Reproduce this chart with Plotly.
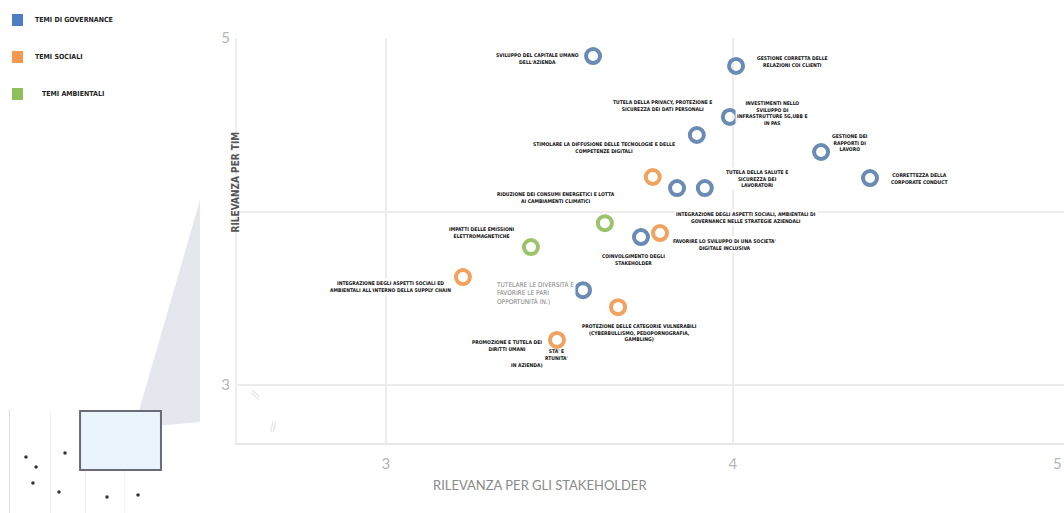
import plotly.graph_objects as go

W, H = 1064, 513

# ---------------- data ----------------
gov_x = [3.597, 4.009, 3.991, 3.896, 4.254, 4.395, 3.839, 3.919, 3.735, 3.568]
gov_y = [4.896, 4.839, 4.545, 4.441, 4.343, 4.193, 4.135, 4.135, 3.853, 3.547]
gov_labels = [
    "SVILUPPO DEL CAPITALE UMANO<br>DELL'AZIENDA",
    "GESTIONE CORRETTA DELLE<br>RELAZIONI COI CLIENTI",
    "INVESTIMENTI NELLO<br>SVILUPPO DI<br>INFRASTRUTTURE 5G,UBB E<br>IN PAS",
    "TUTELA DELLA PRIVACY, PROTEZIONE E<br>SICUREZZA DEI DATI PERSONALI",
    "GESTIONE DEI<br>RAPPORTI DI<br>LAVORO",
    "CORRETTEZZA DELLA<br>CORPORATE CONDUCT",
    "INTEGRAZIONE DEGLI ASPETTI SOCIALI, AMBIENTALI DI<br>GOVERNANCE NELLE STRATEGIE AZIENDALI",
    "TUTELA DELLA SALUTE E<br>SICUREZZA DEI<br>LAVORATORI",
    "COINVOLGIMENTO DEGLI<br>STAKEHOLDER",
    "TUTELARE LE DIVERSITÀ E<br>FAVORIRE LE PARI<br>OPPORTUNITÀ IN.)",
]
soc_x = [3.769, 3.790, 3.222, 3.669, 3.493]
soc_y = [4.199, 3.876, 3.622, 3.449, 3.260]
soc_labels = [
    "STIMOLARE LA DIFFUSIONE DELLE TECNOLOGIE E DELLE<br>COMPETENZE DIGITALI",
    "FAVORIRE LO SVILUPPO DI UNA SOCIETA'<br>DIGITALE INCLUSIVA",
    "INTEGRAZIONE DEGLI ASPETTI SOCIALI ED<br>AMBIENTALI ALL'INTERNO DELLA SUPPLY CHAIN",
    "PROTEZIONE DELLE CATEGORIE VULNERABILI<br>(CYBERBULLISMO, PEDOPORNOGRAFIA,<br>GAMBLING)",
    "PROMOZIONE E TUTELA DEI<br>DIRITTI UMANI",
]
env_x = [3.631, 3.418]
env_y = [3.933, 3.795]
env_labels = [
    "RIDUZIONE DEI CONSUMI ENERGETICI E LOTTA<br>AI CAMBIAMENTI CLIMATICI",
    "IMPATTI DELLE EMISSIONI<br>ELETTROMAGNETICHE",
]
legend_names = ["TEMI DI GOVERNANCE", "TEMI SOCIALI", "TEMI AMBIENTALI"]
x_ticks = [3, 4, 5]
y_ticks = [3, 4, 5]
y_ticktext = ["3", "", "5"]

# minimap (navigator) dots
mini_x = [1.03, 1.68, 1.48, 3.55, 3.16, 6.26, 8.26]
mini_y = [5.44, 4.47, 2.91, 5.83, 2.04, 1.55, 1.75]

# ---------------- style ----------------
C_GOV, C_SOC, C_ENV = "#6a8bb3", "#f2a25f", "#9cc36b"
C_GOV_L, C_SOC_L, C_ENV_L = "#4d7ec1", "#f4994f", "#8dbf5c"
LBL_FONT = "Liberation Sans Narrow, Arial Narrow, DejaVu Sans Condensed, sans-serif"
LBL_SIZE = 5

# label offsets in screen pixels (dx right, dy down) relative to point
gov_off = [(-56, 2), (56, -4), (43, -4), (-34, -30), (29, -10), (50, 0),
           (69, 29), (52, -10), (-7, 22), (-48, 3)]
soc_off = [(-49, -29), (64, 11), (-72, 9), (21, 25), (-50, 6)]
env_off = [(-49, -26), (-49, -15)]

def px(x):
    return x / W

def py(y):
    return 1 - y / H

fig = go.Figure()

ring = dict(symbol="circle-open", size=14)
for xs, ys, col, nm in [(gov_x, gov_y, C_GOV, legend_names[0]),
                        (soc_x, soc_y, C_SOC, legend_names[1]),
                        (env_x, env_y, C_ENV, legend_names[2])]:
    fig.add_trace(go.Scatter(x=xs, y=ys, mode="markers", name=nm,
                             marker=dict(color=col, line=dict(color=col, width=4), **ring),
                             hoverinfo="skip", showlegend=False))

# minimap
fig.add_trace(go.Scatter(x=mini_x, y=mini_y, mode="markers", xaxis="x2", yaxis="y2",
                         marker=dict(color="#333", size=3.5), showlegend=False,
                         hoverinfo="skip"))

annotations = []
def add_labels(xs, ys, labels, offs):
    for x, y, t, (dx, dy) in zip(xs, ys, labels, offs):
        annotations.append(dict(
            x=x, y=y, xref="x", yref="y", text="<b>" + t + "</b>", showarrow=False,
            xshift=dx, yshift=-dy, align="center",
            font=dict(family=LBL_FONT, size=LBL_SIZE, color="#111"),
            bgcolor="rgba(255,255,255,0.92)", borderpad=1))

# partially hidden label under "promozione"
annotations.append(dict(x=soc_x[4], y=soc_y[4], xref="x", yref="y",
                        text="<b>STA' E<br>RTUNITA'</b>", showarrow=False,
                        xshift=0, yshift=-15, font=dict(family=LBL_FONT, size=LBL_SIZE, color="#111")))
annotations.append(dict(x=soc_x[4], y=soc_y[4], xref="x", yref="y",
                        text="<b>IN AZIENDA)</b>", showarrow=False,
                        xshift=-30, yshift=-25, font=dict(family=LBL_FONT, size=LBL_SIZE, color="#111")))

add_labels(gov_x[:9], gov_y[:9], gov_labels[:9], gov_off[:9])
add_labels(soc_x, soc_y, soc_labels, soc_off)
add_labels(env_x, env_y, env_labels, env_off)
# diversity label in gray regular font
annotations.append(dict(x=gov_x[9], y=gov_y[9], xref="x", yref="y", text=gov_labels[9],
                        showarrow=False, xshift=gov_off[9][0], yshift=-gov_off[9][1],
                        align="left", font=dict(family=LBL_FONT, size=6.5, color="#808080"),
                        bgcolor="rgba(255,255,255,0.9)"))

# axis titles
annotations.append(dict(x=px(540), y=py(485), xref="paper", yref="paper",
                        text="RILEVANZA PER GLI STAKEHOLDER", showarrow=False,
                        yanchor="middle",
                        font=dict(family="Lato, sans-serif", size=13, color="#8a8a8a")))
annotations.append(dict(x=px(227), y=py(182), xref="paper", yref="paper",
                        text="<b>RILEVANZA PER TIM</b>", showarrow=False, textangle=-90,
                        font=dict(family=LBL_FONT, size=10, color="#555")))
# tick "5" at the right edge
annotations.append(dict(x=1.0, y=py(463), xref="paper", yref="paper", text="5",
                        xanchor="right", yanchor="middle", showarrow=False,
                        font=dict(family="Lato, sans-serif", size=15, color="#b5b5b5")))
# axis break marks
annotations.append(dict(x=px(244), y=py(404), xref="paper", yref="paper", text="//",
                        showarrow=False, textangle=-70,
                        font=dict(family="Lato, sans-serif", size=12, color="#d8d8d8")))
annotations.append(dict(x=px(265), y=py(437), xref="paper", yref="paper", text="//",
                        showarrow=False, textangle=-10,
                        font=dict(family="Lato, sans-serif", size=12, color="#d8d8d8")))

# legend (manual)
leg_cols = [C_GOV_L, C_SOC_L, C_ENV_L]
leg_y = [20, 57, 94]
leg_tx = [33, 33, 40]
shapes = []
for c, yy, tx, nm in zip(leg_cols, leg_y, leg_tx, legend_names):
    shapes.append(dict(type="rect", xref="paper", yref="paper",
                       x0=px(12), x1=px(23), y0=py(yy + 6), y1=py(yy - 6),
                       fillcolor=c, line=dict(width=0)))
    annotations.append(dict(x=px(tx), y=py(yy), xref="paper", yref="paper",
                            xanchor="left", yanchor="middle", text="<b>" + nm + "</b>",
                            showarrow=False,
                            font=dict(family=LBL_FONT, size=7, color="#222")))

# zoom wedge
shapes.append(dict(type="path", xref="paper", yref="paper", layer="below",
                   path=f"M {px(134)} {py(428)} L {px(200)} {py(200)} L {px(200)} {py(422)} Z",
                   fillcolor="#e6e6ef", line=dict(width=0)))
# minimap selection rectangle
shapes.append(dict(type="rect", xref="x2", yref="y2", x0=4.52, x1=9.74, y0=4.17, y1=9.90,
                   fillcolor="#eaf4fb", line=dict(color="#6a6a78", width=2), layer="above"))

fig.update_layout(
    width=W, height=H, margin=dict(l=0, r=0, t=0, b=0),
    paper_bgcolor="white", plot_bgcolor="white",
    xaxis=dict(domain=[px(237), 1.0], range=[2.571, 4.954], tickvals=x_ticks, automargin=False,
               showgrid=True, gridcolor="#ececec", gridwidth=2, zeroline=False,
               showline=True, linecolor="#e6e6e6", linewidth=2,
               ticks="outside", ticklen=0, tickcolor="white", ticklabelstandoff=6,
               tickfont=dict(family="Lato, sans-serif", size=15, color="#b5b5b5")),
    yaxis=dict(domain=[py(443), py(38)], range=[2.666, 5.0], tickvals=y_ticks, automargin=False,
               ticktext=y_ticktext, showgrid=True, gridcolor="#ececec", gridwidth=2,
               zeroline=False, showline=True, mirror=True, linecolor="#efefef", linewidth=2,
               ticks="outside", ticklen=0, tickcolor="white", ticklabelstandoff=2,
               tickfont=dict(family="Lato, sans-serif", size=15, color="#b5b5b5")),
    xaxis2=dict(domain=[px(10), px(165)], range=[0, 10], anchor="y2", automargin=False,
                showticklabels=False, showgrid=True, gridcolor="#f2f2f2",
                tickvals=[2.6, 4.9, 7.4], zeroline=False, showline=False),
    yaxis2=dict(domain=[0, py(410)], range=[0, 10], anchor="x2", automargin=False,
                showticklabels=False, showgrid=False, zeroline=False,
                showline=True, linecolor="#dddddd", linewidth=1),
    annotations=annotations, shapes=shapes, showlegend=False,
)

fig.write_html("out.html")
